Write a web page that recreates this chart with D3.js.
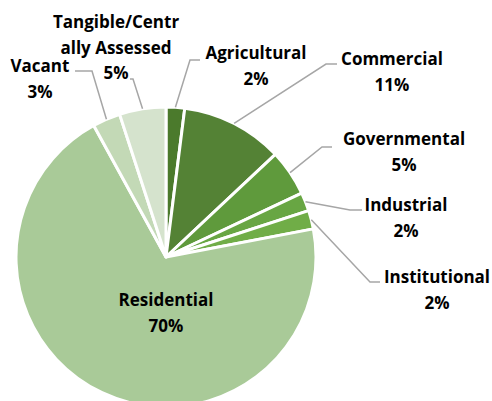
<!DOCTYPE html>
<html>
<head>
<meta charset="utf-8">
<script src="https://cdn.jsdelivr.net/npm/d3@7"></script>
<style>
  html, body { margin: 0; padding: 0; background: #fff; }
  svg { display: block; }
  text { font-family: "Open Sans", "Liberation Sans", sans-serif; font-weight: bold; font-size: 17px; fill: #000; }
</style>
</head>
<body>
<svg id="chart"></svg>
<script>
// land use shares, clockwise from 12 o'clock
const categories = ["Agricultural", "Commercial", "Governmental", "Industrial", "Institutional", "Residential", "Vacant", "Tangible/Centrally Assessed"];
const shares = [2, 11, 5, 2, 2, 70, 3, 5];
const labelLines = [
	["Agricultural"], ["Commercial"], ["Governmental"], ["Industrial"], ["Institutional"],
	["Residential"], ["Vacant"], ["Tangible/Centr", "ally Assessed"]
];
const colors = ["#4b7a2c", "#548235", "#5f9a3c", "#68a643", "#70ad47", "#a9ca98", "#c3d9b6", "#d5e3cd"];

const width = 492, height = 401;
const cx = 166, cy = 257, radius = 150;
const lineH = 25.5;

// where Excel put each label: text centre x, first baseline, leader elbow and end
const labelLayout = {
	"Agricultural": { x: 256, y: 59, elbow: [190, 60], end: [200, 60] },
	"Commercial": { x: 392, y: 65, elbow: [326, 64], end: [337, 64] },
	"Governmental": { x: 404, y: 145, elbow: [322, 147], end: [332, 147] },
	"Industrial": { x: 406, y: 211, elbow: [350, 210], end: [362, 210] },
	"Institutional": { x: 437, y: 283, elbow: [370, 282], end: [380, 282] },
	"Residential": { x: 166, y: 306 },
	"Vacant": { x: 40, y: 72, elbow: [92, 71], end: [75, 71] },
	"Tangible/Centrally Assessed": { x: 116, y: 28, elbow: [133, 79], end: [130, 79] }
};

const data = categories.map((c, i) => ({ name: c, value: shares[i], lines: labelLines[i], color: colors[i] }));

const svg = d3.select("#chart").attr("width", width).attr("height", height);

const pie = d3.pie().value(d => d.value).sort(null);
const arc = d3.arc().innerRadius(0).outerRadius(radius);
const edge = d3.arc().innerRadius(radius).outerRadius(radius);

const arcs = pie(data);

const g = svg.append("g").attr("transform", "translate(" + cx + "," + cy + ")");

g.selectAll("path.slice")
	.data(arcs)
	.join("path")
	.attr("class", "slice")
	.attr("d", arc)
	.attr("fill", d => d.data.color)
	.attr("stroke", "#fff")
	.attr("stroke-width", 3)
	.attr("stroke-linejoin", "round");

// leader lines from the slice edge at its mid angle
const leaders = arcs.filter(d => labelLayout[d.data.name].elbow);
svg.selectAll("polyline.leader")
	.data(leaders)
	.join("polyline")
	.attr("class", "leader")
	.attr("fill", "none")
	.attr("stroke", "#a6a6a6")
	.attr("stroke-width", 1.5)
	.attr("points", d => {
		const p = edge.centroid(d);
		const L = labelLayout[d.data.name];
		return [[p[0] + cx, p[1] + cy], L.elbow, L.end].map(q => q.join(",")).join(" ");
	});

const label = svg.selectAll("text.label")
	.data(arcs)
	.join("text")
	.attr("class", "label")
	.attr("text-anchor", "middle")
	.attr("x", d => labelLayout[d.data.name].x)
	.attr("y", d => labelLayout[d.data.name].y);

label.each(function (d) {
	const t = d3.select(this);
	const L = labelLayout[d.data.name];
	const lines = d.data.lines.concat([d.data.value + "%"]);
	lines.forEach((s, i) => {
		t.append("tspan").attr("x", L.x).attr("dy", i === 0 ? 0 : lineH).text(s);
	});
});
</script>
</body>
</html>
